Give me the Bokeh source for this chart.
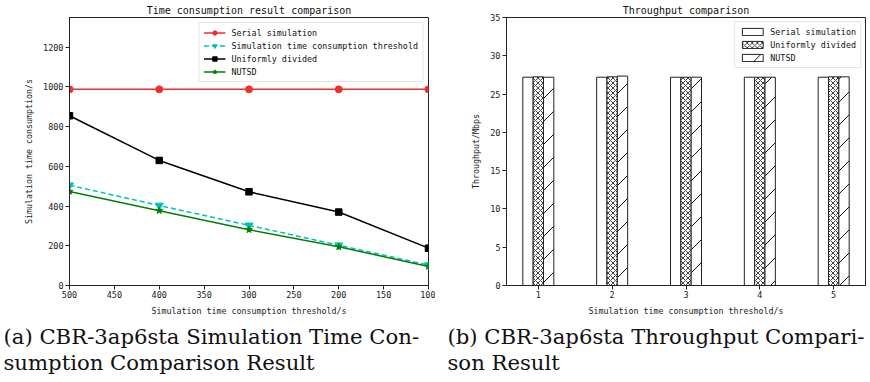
from bokeh.plotting import figure
from bokeh.models import (Range1d, FixedTicker, Legend, LegendItem, Label,
                          ColumnDataSource, CanvasTexture)
from bokeh.core.properties import value
from bokeh.layouts import column, row
from bokeh.transform import dodge
from bokeh.embed import file_html
from bokeh.resources import INLINE

# ---------------- data ----------------
thresholds = [500, 400, 300, 200, 100]
serial_time = [988, 988, 988, 988, 988]
threshold_time = [505, 403, 303, 203, 103]
uniform_time = [855, 630, 472, 370, 188]
nutsd_time = [474, 377, 281, 195, 96]

groups = [1, 2, 3, 4, 5]
serial_tp = [27.2, 27.2, 27.2, 27.2, 27.2]
uniform_tp = [27.25, 27.25, 27.2, 27.2, 27.25]
nutsd_tp = [27.2, 27.35, 27.2, 27.2, 27.25]

left_xticks = [500, 450, 400, 350, 300, 250, 200, 150, 100]
left_yticks = [0, 200, 400, 600, 800, 1000, 1200]
right_yticks = [0, 5, 10, 15, 20, 25, 30, 35]

caption_a = ["(a) CBR-3ap6sta Simulation Time Con-", "sumption Comparison Result"]
caption_b = ["(b) CBR-3ap6sta Throughput Compari-", "son Result"]

MONO = "DejaVu Sans Mono"
SERIF = "DejaVu Serif"
TOP_H = 318


def style(p, title):
    p.title.text = title
    p.title.align = "center"
    p.title.text_font = MONO
    p.title.text_font_size = "10px"
    p.title.text_font_style = "normal"
    p.title.text_color = "#111111"
    p.title.standoff = 3
    p.xgrid.visible = False
    p.ygrid.visible = False
    p.outline_line_color = "#222222"
    p.outline_line_width = 1
    p.background_fill_color = "white"
    p.border_fill_color = "white"
    for ax in (p.xaxis[0], p.yaxis[0]):
        ax.axis_line_color = "#222222"
        ax.major_tick_line_color = "#222222"
        ax.major_tick_out = 4
        ax.major_tick_in = 0
        ax.minor_tick_out = 0
        ax.minor_tick_in = 0
        ax.major_label_text_font = MONO
        ax.major_label_text_font_size = "8.5px"
        ax.major_label_text_color = "#222222"
        ax.axis_label_text_font = MONO
        ax.axis_label_text_font_size = "8.3px"
        ax.axis_label_text_font_style = "normal"
        ax.axis_label_text_color = "#222222"
    p.xaxis[0].major_label_standoff = 1
    p.xaxis[0].axis_label_standoff = 5
    p.yaxis[0].major_label_standoff = 2
    p.yaxis[0].axis_label_standoff = 6


# ---------------- left: line chart ----------------
p1 = figure(width=435, height=TOP_H, output_backend="svg", toolbar_location=None,
            x_range=Range1d(500, 100), y_range=Range1d(0, 1350),
            min_border_left=69, min_border_right=7, min_border_top=17,
            min_border_bottom=TOP_H - 285)
style(p1, "Time consumption result comparison")
p1.xaxis[0].ticker = FixedTicker(ticks=left_xticks)
p1.yaxis[0].ticker = FixedTicker(ticks=left_yticks)
p1.xaxis[0].axis_label = "Simulation time consumption threshold/s"
p1.yaxis[0].axis_label = "Simulation time consumption/s"

src = ColumnDataSource(dict(x=thresholds, serial=serial_time, thr=threshold_time,
                            uni=uniform_time, nut=nutsd_time))

RED, CYAN, BLACK, GREEN = "#ee3030", "#00bfbf", "#000000", "#008000"
l1 = p1.line("x", "serial", source=src, line_color=RED, line_width=1.5)
m1 = p1.scatter("x", "serial", source=src, marker="circle", size=7,
                fill_color=RED, line_color=RED)
l2 = p1.line("x", "thr", source=src, line_color=CYAN, line_width=1.5, line_dash="5 3")
m2 = p1.scatter("x", "thr", source=src, marker="inverted_triangle", size=8,
                fill_color=CYAN, line_color=CYAN)
l3 = p1.line("x", "uni", source=src, line_color=BLACK, line_width=1.5)
m3 = p1.scatter("x", "uni", source=src, marker="square", size=6.5,
                fill_color=BLACK, line_color=BLACK)
l4 = p1.line("x", "nut", source=src, line_color=GREEN, line_width=1.5)
m4 = p1.scatter("x", "nut", source=src, marker="star", size=7,
                fill_color=GREEN, line_color=GREEN)

leg1 = Legend(items=[
    LegendItem(label="Serial simulation", renderers=[l1, m1]),
    LegendItem(label="Simulation time consumption threshold", renderers=[l2, m2]),
    LegendItem(label="Uniformly divided", renderers=[l3, m3]),
    LegendItem(label="NUTSD", renderers=[l4, m4]),
], location="top_right")
leg1.margin = 5
leg1.padding = 4
leg1.spacing = 2
leg1.label_height = 11
leg1.glyph_height = 11
leg1.glyph_width = 22
leg1.label_standoff = 6
leg1.label_text_font = MONO
leg1.label_text_font_size = "8.4px"
leg1.label_text_color = "#111111"
leg1.border_line_color = "#cccccc"
leg1.border_line_width = 1
leg1.background_fill_alpha = 0.9
p1.add_layout(leg1)

# ---------------- right: bar chart ----------------
p2 = figure(width=435, height=TOP_H, output_backend="svg", toolbar_location=None,
            x_range=Range1d(0.569, 5.431), y_range=Range1d(0, 35),
            min_border_left=71, min_border_right=5, min_border_top=17,
            min_border_bottom=TOP_H - 285)
style(p2, "Throughput comparison")
p2.xaxis[0].ticker = FixedTicker(ticks=groups)
p2.yaxis[0].ticker = FixedTicker(ticks=right_yticks)
p2.xaxis[0].axis_label = "Simulation time consumption threshold/s"
p2.yaxis[0].axis_label = "Throughput/Mbps"

# 45-degree single-hatch tile (matplotlib-like "/")
diag45 = CanvasTexture(repetition="repeat", code="""
var s = Math.round(Math.max(scale, weight));
var w = Math.min(scale, weight);
ctx.canvas.width = s; ctx.canvas.height = s;
ctx.clearRect(0, 0, s, s);
ctx.strokeStyle = "#111111";
ctx.lineWidth = w;
ctx.beginPath();
ctx.moveTo(0, s); ctx.lineTo(s, 0);
ctx.moveTo(-2, 2); ctx.lineTo(2, -2);
ctx.moveTo(s - 2, s + 2); ctx.lineTo(s + 2, s - 2);
ctx.stroke();
""")

bsrc = ColumnDataSource(dict(g=groups, s=serial_tp, u=uniform_tp, n=nutsd_tp))
W = 0.14
b1 = p2.vbar(x=dodge("g", -W, range=p2.x_range), top="s", width=W, source=bsrc,
             fill_color="white", line_color="#222222", line_width=1)
b2 = p2.vbar(x=dodge("g", 0, range=p2.x_range), top="u", width=W, source=bsrc,
             fill_color="white", line_color="#222222", line_width=1,
             hatch_pattern="x", hatch_color="#111111", hatch_scale=5, hatch_weight=0.8)
b3 = p2.vbar(x=dodge("g", W, range=p2.x_range), top="n", width=W, source=bsrc,
             fill_color="white", line_color="#222222", line_width=1,
             hatch_pattern=value("diag45"), hatch_extra={"diag45": diag45},
             hatch_color="#111111", hatch_scale=23, hatch_weight=1)

leg2 = Legend(items=[
    LegendItem(label="Serial simulation", renderers=[b1]),
    LegendItem(label="Uniformly divided", renderers=[b2]),
    LegendItem(label="NUTSD", renderers=[b3]),
], location="top_right")
leg2.margin = 4
leg2.padding = 4
leg2.spacing = 2
leg2.label_height = 11
leg2.glyph_height = 9
leg2.glyph_width = 26
leg2.label_standoff = 5
leg2.label_text_font = MONO
leg2.label_text_font_size = "8.4px"
leg2.label_text_color = "#111111"
leg2.border_line_color = "#cccccc"
leg2.border_line_width = 1
leg2.background_fill_alpha = 0.9
p2.add_layout(leg2)

# ---------------- captions ----------------
CAP_H = 382 - TOP_H
pc = figure(width=870, height=CAP_H, output_backend="svg", toolbar_location=None,
            x_range=Range1d(0, 870), y_range=Range1d(CAP_H, 0),
            x_axis_type=None, y_axis_type=None, min_border=0)
pc.outline_line_color = None
pc.xgrid.visible = False
pc.ygrid.visible = False
for xpos, lines in ((3, caption_a), (447, caption_b)):
    for i, t in enumerate(lines):
        pc.add_layout(Label(x=xpos, y=335.5 - TOP_H + i * 26.5, text=t,
                            text_font=SERIF, text_font_size="21.2px",
                            text_baseline="alphabetic", text_color="#111111"))

layout = column(row(p1, p2), pc)
open("out.html", "w").write(file_html(layout, INLINE))
